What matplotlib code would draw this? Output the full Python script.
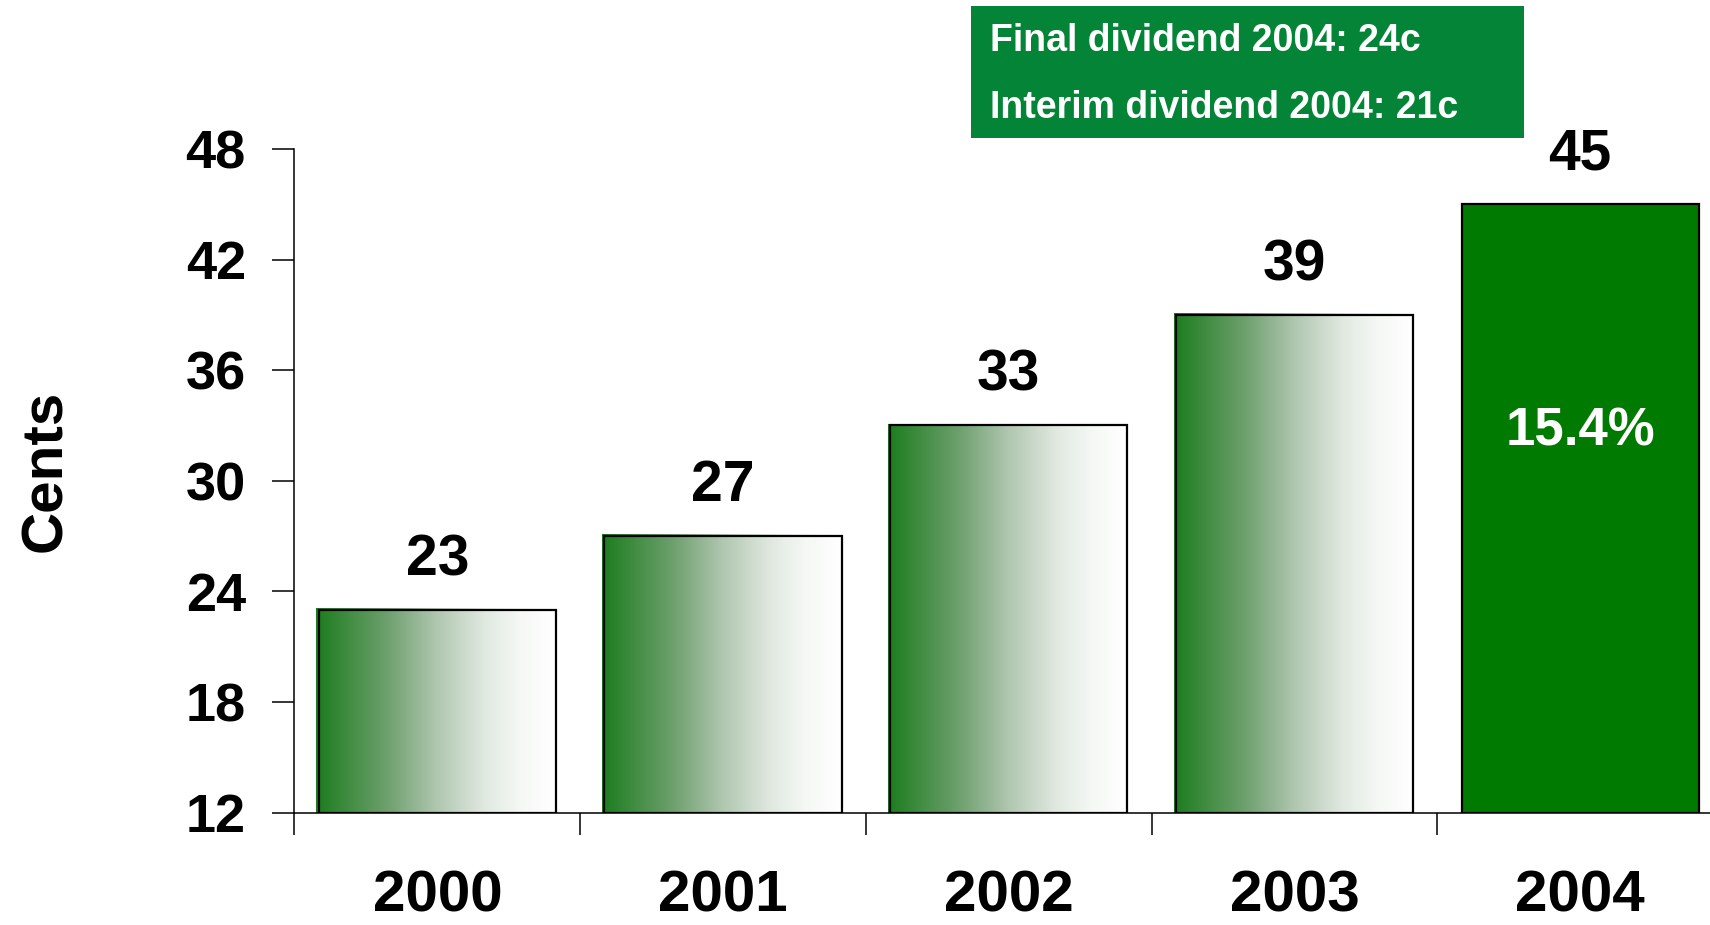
#!/usr/bin/env python3
"""Dividend per share bar chart, 2000-2004."""

import matplotlib.pyplot as plt
import numpy as np
from matplotlib.colors import LinearSegmentedColormap

years = ["2000", "2001", "2002", "2003", "2004"]
dividends = [23, 27, 33, 39, 45]
growth_label = "15.4%"
box_lines = ["Final dividend 2004: 24c", "Interim dividend 2004: 21c"]
y_ticks = [12, 18, 24, 30, 36, 42, 48]

plt.rcParams["font.family"] = ["Liberation Sans", "DejaVu Sans"]
plt.rcParams["font.weight"] = "bold"

fig = plt.figure(figsize=(17.1, 9.25), dpi=100)
axis = fig.add_axes([0.1722, 0.1216, 0.8354, 0.7173])

fade = LinearSegmentedColormap.from_list(
    "fade",
    [(0.0, "#1c7d1e"), (0.3, "#6fa06f"), (0.5, "#afc6af"), (0.7, "#e0e8e0"),
     (0.85, "#f5f8f5"), (1.0, "#ffffff")],
)
gradient = np.linspace(0, 1, 256).reshape(1, -1)
width = 0.83
ymin = 12

positions = np.arange(len(years))
for pos, value in zip(positions[:-1], dividends[:-1]):
    left = pos - width / 2
    axis.imshow(gradient, cmap=fade, aspect="auto", interpolation="bicubic",
                extent=(left - 0.008, left + width, ymin, value + 0.1), zorder=2)
    axis.bar(pos, value - ymin, bottom=ymin, width=width, facecolor="none",
             edgecolor="black", linewidth=1.6, zorder=3)

axis.bar(positions[-1], dividends[-1] - ymin, bottom=ymin, width=width,
         facecolor="#007a00", edgecolor="black", linewidth=1.6, zorder=3)

for pos, value in zip(positions, dividends):
    axis.text(pos, value + 2.7, str(value), ha="center", va="center",
              fontsize=41, fontweight="bold", color="black")
axis.text(positions[-1], 32.65, growth_label, ha="center", va="center",
          fontsize=38, fontweight="bold", color="white", zorder=4)

axis.set_xlim(-0.5, len(years) - 0.5)
axis.set_ylim(ymin, 48)
axis.set_yticks(y_ticks)
axis.set_yticklabels([str(t) for t in y_ticks])
axis.set_xticks(positions)
axis.set_xticklabels(years)
axis.set_xticks(np.arange(len(years) + 1) - 0.5, minor=True)
axis.tick_params(axis="y", length=16, width=1.1, pad=19, labelsize=39)
axis.tick_params(axis="x", which="major", length=0, pad=41, labelsize=42)
axis.tick_params(axis="x", which="minor", length=16, width=1.1)
for label in axis.get_xticklabels() + axis.get_yticklabels():
    label.set_fontweight("bold")

for side in ("top", "right"):
    axis.spines[side].set_visible(False)
for side in ("left", "bottom"):
    axis.spines[side].set_linewidth(1.1)

axis.set_ylabel("Cents", fontsize=42, fontweight="bold")
axis.yaxis.set_label_coords(-0.155, 0.515)

fig.patches.append(plt.Rectangle((971 / 1710, 1 - 138 / 925), 553 / 1710, 132 / 925,
                                 transform=fig.transFigure, facecolor="#038437",
                                 edgecolor="none"))
for i, line in enumerate(box_lines):
    fig.text(990 / 1710, 1 - (41 + 67 * i) / 925, line, ha="left", va="center",
             fontsize=27, fontweight="bold", color="white")

fig.savefig("out.png", dpi=100)
